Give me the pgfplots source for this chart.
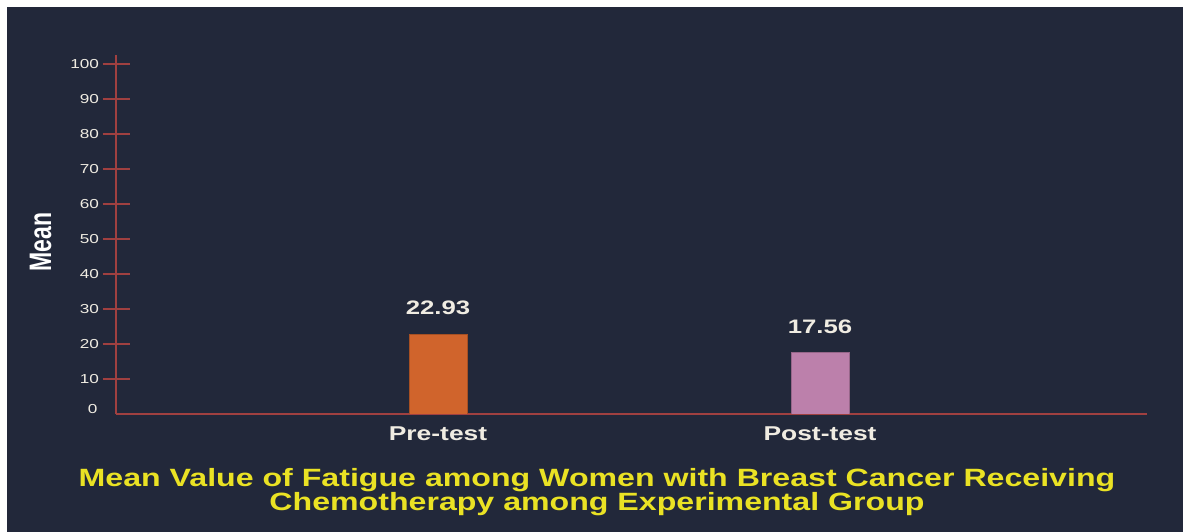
\documentclass[border=0pt]{standalone}
\usepackage{pgfplots}
\pgfplotsset{compat=1.18}
\usepackage{fontspec}
\setmainfont[FakeStretch=1.32]{Liberation Sans}
\newfontfamily\plainfont{Liberation Sans}
\newfontfamily\titlefont[FakeStretch=1.285]{Liberation Sans}
\definecolor{bg}{RGB}{34,40,58}
\definecolor{axiscol}{RGB}{160,64,64}
\definecolor{labcol}{RGB}{240,236,226}
\definecolor{titlecol}{RGB}{234,226,36}
\definecolor{barA}{RGB}{208,100,44}
\definecolor{barB}{RGB}{188,128,171}
\begin{document}
\begin{tikzpicture}[x=1pt,y=1pt]
\fill[white] (0,0) rectangle (1183,532);
\fill[bg] (7,0) rectangle (1183,525);
\begin{axis}[
  at={(116pt,118pt)}, anchor=south west,
  scale only axis, width=1031pt, height=359pt,
  xmin=-0.843, xmax=1.856, ymin=0, ymax=102.6,
  axis x line=bottom, axis y line=left,
  axis line style={draw=axiscol, line width=1.3pt, -},
  ytick={10,20,...,100},
  extra y ticks={0},
  extra y tick style={major tick length=0pt, yticklabel style={xshift=-15pt, yshift=5pt}},
  major tick length=27pt, tick align=center,
  ytick style={draw=axiscol, line width=1.3pt},
  xtick={0,1}, xticklabels={Pre-test,Post-test},
  xtick style={draw=none},
  /pgf/number format/assume math mode=true,
  yticklabel style={font=\fontsize{13}{15}\selectfont, text=labcol},
  xticklabel style={font=\bfseries\fontsize{20}{22}\selectfont, text=labcol, anchor=base},
  ybar, bar width=58pt, bar shift=0pt,
  nodes near coords={\pgfmathprintnumber[fixed,fixed zerofill,precision=2]{\pgfplotspointmeta}},
  nodes near coords style={font=\bfseries\fontsize{19.5}{21}\selectfont, text=labcol, anchor=base, yshift=19pt},
]
\addplot[fill=barA, draw=barA!80!black] coordinates {(0,22.93)};
\addplot[fill=barB, draw=barB!80!black] coordinates {(1,17.56)};
\end{axis}
\node[text=white, inner sep=0pt] at (40.5,290) {\scalebox{1.35}[1]{\rotatebox{90}{\plainfont\bfseries\fontsize{23}{25}\selectfont Mean}}};
\node[anchor=base, font=\titlefont\bfseries\fontsize{25}{25}\selectfont, text=titlecol] at (597,45) {Mean Value of Fatigue among Women with Breast Cancer Receiving};
\node[anchor=base, font=\titlefont\bfseries\fontsize{25}{25}\selectfont, text=titlecol] at (597,21) {Chemotherapy among Experimental Group};
\end{tikzpicture}
\end{document}
